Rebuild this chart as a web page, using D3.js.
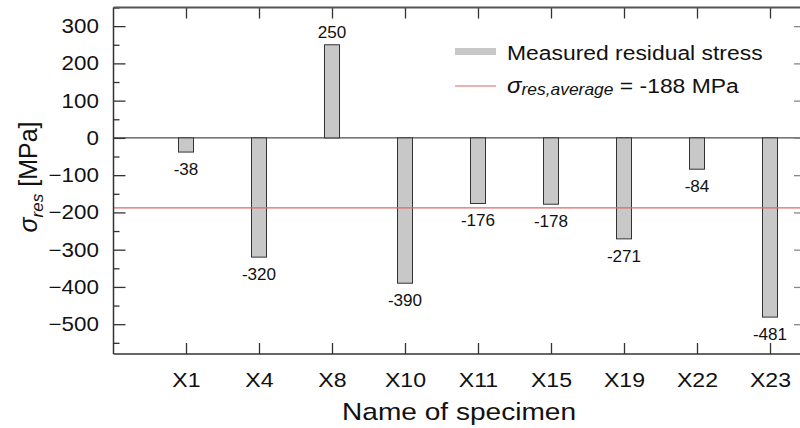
<!DOCTYPE html>
<html><head><meta charset="utf-8">
<script src="https://cdn.jsdelivr.net/npm/d3@7"></script>
<style>
body{margin:0;background:#fff;}
svg{display:block;font-family:"Liberation Sans",Arial,Helvetica,sans-serif;}
</style></head>
<body>
<svg id="c" width="800" height="428"></svg>
<script>
const categories = ["X1","X4","X8","X10","X11","X15","X19","X22","X23"];
const values = [-38,-320,250,-390,-176,-178,-271,-84,-481];
const average = -188;
const yMajorTicks = [300,200,100,0,-100,-200,-300,-400,-500];
const yMinorTicks = [350,250,150,50,-50,-150,-250,-350,-450,-550];

const svg = d3.select("#c");
const L = 113.5, R = 806, T = 7.5, B = 354;
const x = d3.scalePoint().domain(categories).range([186, 770]);
const y = d3.scaleLinear().domain([-580, 350]).range([B, T]);
const axisColor = "#333";

// zero line
svg.append("line").attr("x1", L).attr("x2", R).attr("y1", y(0)).attr("y2", y(0))
  .attr("stroke", "#222").attr("stroke-width", 1);

// bars
const bw = 15;
svg.selectAll("rect.bar").data(values).enter().append("rect")
  .attr("class","bar")
  .attr("x", (d,i) => x(categories[i]) - bw/2)
  .attr("y", d => y(Math.max(0,d)))
  .attr("width", bw)
  .attr("height", d => Math.abs(y(d) - y(0)))
  .attr("fill", "#c8c8c8").attr("stroke", "#333").attr("stroke-width", 1);

// average line
svg.append("line").attr("x1", L).attr("x2", R).attr("y1", y(average)).attr("y2", y(average))
  .attr("stroke", "#e06666").attr("stroke-width", 1.2);

// value labels
svg.selectAll("text.val").data(values).enter().append("text")
  .attr("class","val")
  .attr("transform", (d,i) => `translate(${x(categories[i])},${d >= 0 ? y(d) - 7 : y(d) + 23}) scale(1.07,1)`)
  .attr("text-anchor","middle").attr("font-size", 16).attr("fill","#111")
  .text(d => d);

// axes
const leftAxis = d3.axisLeft(y).tickValues(yMajorTicks).tickSizeInner(-12).tickSizeOuter(0).tickPadding(13);
const gL = svg.append("g").attr("transform", `translate(${L},0)`).call(leftAxis);
gL.selectAll("text").attr("font-size", 20).attr("fill","#111").attr("transform","scale(1.12,1)");
const gLm = svg.append("g").attr("transform", `translate(${L},0)`)
  .call(d3.axisLeft(y).tickValues(yMinorTicks).tickSizeInner(-6).tickSizeOuter(0).tickFormat(""));

const gR = svg.append("g").attr("transform", `translate(${R},0)`)
  .call(d3.axisRight(y).tickValues(yMajorTicks).tickSizeInner(-12).tickSizeOuter(0).tickFormat(""));
const gRm = svg.append("g").attr("transform", `translate(${R},0)`)
  .call(d3.axisRight(y).tickValues(yMinorTicks).tickSizeInner(-6).tickSizeOuter(0).tickFormat(""));

const gB = svg.append("g").attr("transform", `translate(0,${B})`)
  .call(d3.axisBottom(x).tickSizeInner(-11).tickSizeOuter(0).tickPadding(18));
gB.selectAll("text").attr("font-size", 21).attr("fill","#111").attr("transform","scale(1.1,1)");
const gT = svg.append("g").attr("transform", `translate(0,${T})`)
  .call(d3.axisTop(x).tickSizeInner(-11).tickSizeOuter(0).tickFormat(""));

[gL,gLm,gR,gRm,gB,gT].forEach(g => {
  g.select(".domain").remove();
  g.selectAll("line").attr("stroke", axisColor).attr("stroke-width", 1.3);
});
gR.selectAll("line").attr("stroke", "#888");
gRm.selectAll("line").attr("stroke", "#ccc");

// frame lines
svg.append("line").attr("x1", L).attr("x2", L).attr("y1", T).attr("y2", B).attr("stroke", axisColor).attr("stroke-width", 1.5);
svg.append("line").attr("x1", L).attr("x2", 800).attr("y1", B).attr("y2", B).attr("stroke", axisColor).attr("stroke-width", 1.5);
svg.append("line").attr("x1", L).attr("x2", 800).attr("y1", T).attr("y2", T).attr("stroke", "#555").attr("stroke-width", 2);

// x axis title
svg.append("text").attr("transform", "translate(459,420) scale(1.17,1)").attr("text-anchor","middle")
  .attr("font-size", 24).attr("fill","#111").text("Name of specimen");

// y axis title
const yt = svg.append("text").attr("transform", "translate(37,177) rotate(-90)")
  .attr("text-anchor","middle").attr("font-size", 25).attr("fill","#111");
yt.append("tspan").attr("font-style","italic").text("σ");
yt.append("tspan").attr("font-style","italic").attr("font-size", 17).attr("dy", 6).text("res");
yt.append("tspan").attr("dy", -6).text("   [MPa]");

// legend
svg.append("line").attr("x1", 455).attr("x2", 496).attr("y1", 51.5).attr("y2", 51.5)
  .attr("stroke", "#c8c8c8").attr("stroke-width", 7);
svg.append("text").attr("transform", "translate(507,60) scale(1.09,1)").attr("font-size", 21).attr("fill","#111")
  .text("Measured residual stress");
svg.append("line").attr("x1", 455).attr("x2", 496).attr("y1", 86).attr("y2", 86)
  .attr("stroke", "#e06666").attr("stroke-width", 1.2);
const lt = svg.append("text").attr("transform", "translate(507,93) scale(1.09,1)").attr("font-size", 21).attr("fill","#111");
lt.append("tspan").attr("font-style","italic").attr("font-size", 22).text("σ");
lt.append("tspan").attr("font-style","italic").attr("font-size", 16).attr("dy", 2).text("res,average");
lt.append("tspan").attr("dy", -2).text(" = -188 MPa");
</script>
</body></html>
